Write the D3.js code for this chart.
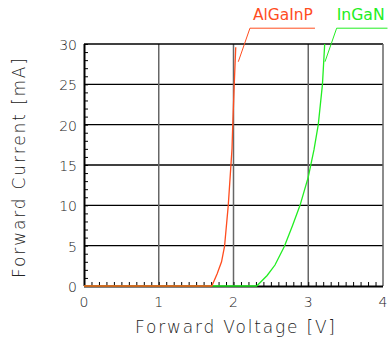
<!DOCTYPE html>
<html><head><meta charset="utf-8">
<script src="https://cdn.jsdelivr.net/npm/d3@7"></script>
<style>body{margin:0;background:#fff}svg{display:block}</style>
</head><body>
<svg id="c" width="389" height="345"></svg>
<script>
// data
const xTicks = [0, 1, 2, 3, 4];
const yTicks = [0, 5, 10, 15, 20, 25, 30];
const alV = [0, 1.71, 1.78, 1.84, 1.88, 1.93, 1.98, 1.99, 2.01, 2.03];
const alI = [0, 0, 1.5, 3.0, 4.9, 10, 17, 20, 25, 29.6];
const inV = [0, 2.31, 2.45, 2.555, 2.68, 2.79, 2.89, 3.0, 3.077, 3.134, 3.19, 3.22];
const inI = [0, 0, 1.3, 2.6, 4.9, 7.5, 10, 13.5, 16.9, 20, 25, 30];
const seriesNames = ["AlGaInP", "InGaN"];
const seriesColors = ["#ff4d1f", "#22ee22"];
const alLeader = [[2.064, 27.8], [2.22, 31.96], [3.09, 31.96]];
const inLeader = [[3.224, 27.8], [3.38, 31.96], [4.06, 31.96]];

const svg = d3.select("#c");
const x = d3.scaleLinear().domain([0, 4]).range([84, 383]);
const y = d3.scaleLinear().domain([0, 30]).range([286, 44]);
const font = "'DejaVu Sans', sans-serif";

// horizontal gridlines
svg.selectAll(".hg").data(yTicks.filter(d => d > 0 && d < 30)).join("line")
  .attr("x1", x(0)).attr("x2", x(4)).attr("y1", d => y(d)).attr("y2", d => y(d))
  .attr("stroke", "#000").attr("stroke-width", 1.3);
// vertical gridlines
svg.selectAll(".vg").data(xTicks.filter(d => d > 0 && d < 4)).join("line")
  .attr("x1", d => x(d)).attr("x2", d => x(d)).attr("y1", y(0)).attr("y2", y(30))
  .attr("stroke", "#666").attr("stroke-width", 1.5);
// frame
svg.append("line").attr("x1", x(0)).attr("x2", x(4)).attr("y1", y(30)).attr("y2", y(30)).attr("stroke", "#000").attr("stroke-width", 1.3);
svg.append("line").attr("x1", x(4)).attr("x2", x(4)).attr("y1", y(0)).attr("y2", y(30)).attr("stroke", "#666").attr("stroke-width", 1.5);

// axes with minor ticks inward
const yAxis = d3.axisRight(y).tickValues(d3.range(0, 31, 1)).tickSize(4).tickFormat("");
svg.append("g").attr("transform", `translate(${x(0)},0)`).call(yAxis)
  .call(g => g.select(".domain").attr("stroke-width", 2).attr("d", `M0.5,${y(0)}V${y(30)}`))
  .call(g => g.selectAll(".tick line").attr("stroke-width", 1));
const xAxis = d3.axisTop(x).tickValues(d3.range(0, 40, 1).map(d => d / 10)).tickSize(4).tickFormat("");
svg.append("g").attr("transform", `translate(0,${y(0)})`).call(xAxis)
  .call(g => g.select(".domain").attr("stroke-width", 2).attr("d", `M${x(0)},0.5H${x(4)}`))
  .call(g => g.selectAll(".tick line").attr("stroke-width", 1));

// tick labels
svg.selectAll(".yl").data(yTicks).join("text")
  .attr("x", 77).attr("y", d => y(d) + 6).attr("text-anchor", "end")
  .attr("font-family", font).attr("font-weight", 200).attr("font-size", 14).attr("fill", "#222")
  .text(d => d);
svg.selectAll(".xl").data(xTicks).join("text")
  .attr("x", d => x(d)).attr("y", 307).attr("text-anchor", "middle")
  .attr("font-family", font).attr("font-weight", 200).attr("font-size", 14).attr("fill", "#222")
  .text(d => d);

// axis titles
svg.append("text").attr("x", 235).attr("y", 333).attr("text-anchor", "middle")
  .attr("font-family", font).attr("font-weight", 200).attr("font-size", 17).attr("fill", "#222")
  .attr("textLength", 200).attr("lengthAdjust", "spacing")
  .text("Forward Voltage [V]");
svg.append("text").attr("transform", "translate(25,168) rotate(-90)").attr("text-anchor", "middle")
  .attr("font-family", font).attr("font-weight", 200).attr("font-size", 17).attr("fill", "#222")
  .attr("textLength", 220).attr("lengthAdjust", "spacing")
  .text("Forward Current [mA]");

// curves
const line = d3.line().x(d => x(d[0])).y(d => y(d[1]));
const inData = inV.map((v, i) => [v, inI[i]]);
const alData = alV.map((v, i) => [v, alI[i]]);
svg.append("path").attr("d", line(inData)).attr("fill", "none").attr("stroke", seriesColors[1]).attr("stroke-width", 1.3);
svg.append("path").attr("d", line(alData)).attr("fill", "none").attr("stroke", seriesColors[0]).attr("stroke-width", 1.3);

// leaders + labels
const leaders = [alLeader, inLeader];
leaders.forEach((ld, i) => {
  svg.append("path").attr("d", line(ld)).attr("fill", "none").attr("stroke", seriesColors[i]).attr("stroke-width", 1);
});
svg.append("text").attr("x", x(2.26)).attr("y", 20)
  .attr("font-family", "'DejaVu Sans Condensed', 'DejaVu Sans', sans-serif").attr("font-size", 16).attr("fill", seriesColors[0])
  .attr("textLength", 60).attr("lengthAdjust", "spacingAndGlyphs").text(seriesNames[0]);
svg.append("text").attr("x", x(3.38)).attr("y", 20)
  .attr("font-family", "'DejaVu Sans Condensed', 'DejaVu Sans', sans-serif").attr("font-size", 16).attr("fill", seriesColors[1])
  .attr("textLength", 48).attr("lengthAdjust", "spacingAndGlyphs").text(seriesNames[1]);
</script>
</body></html>
